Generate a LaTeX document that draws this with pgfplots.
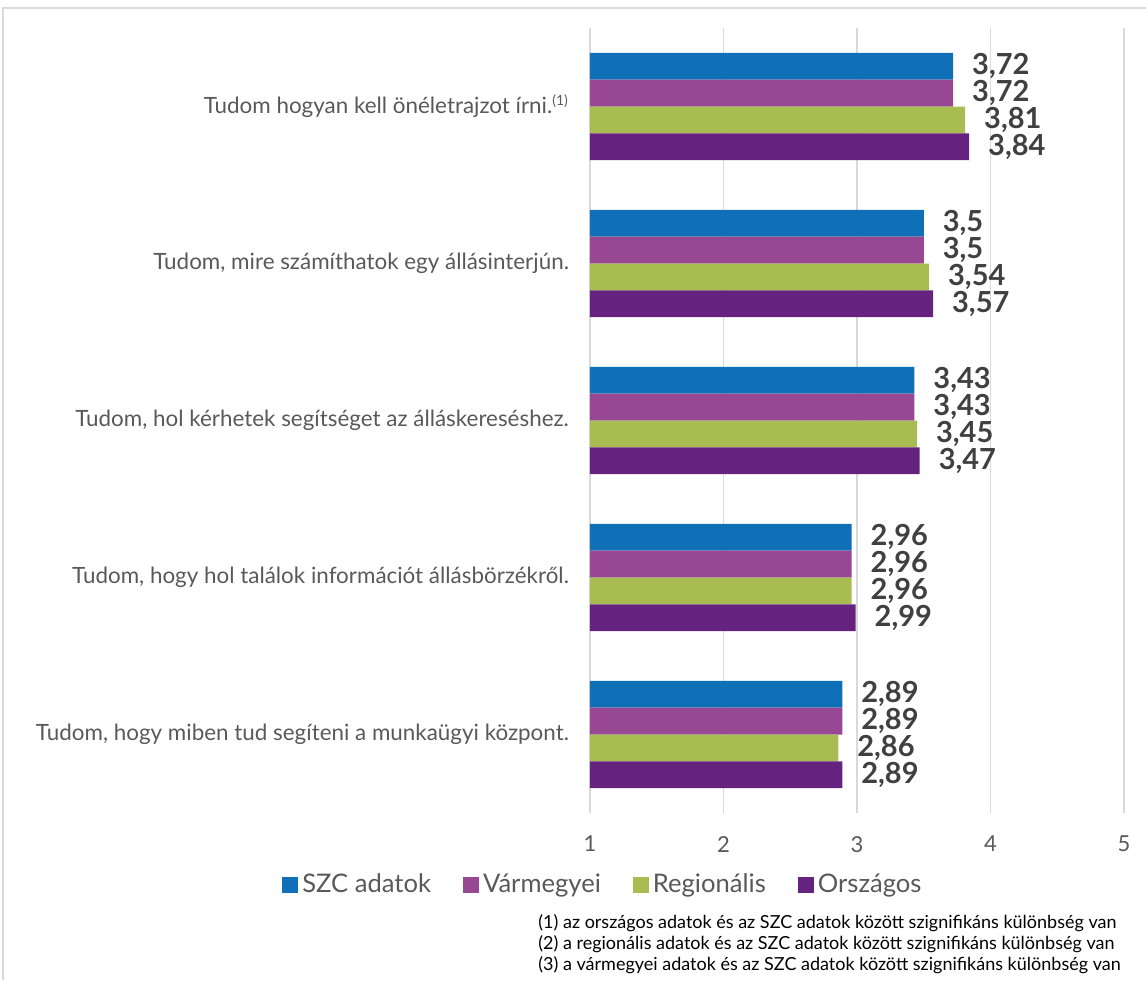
\documentclass[border=0pt]{standalone}
\usepackage{fontspec}
\setmainfont{Lato}
\usepackage{pgfplots}
\pgfplotsset{compat=1.18}
\definecolor{cSZC}{HTML}{0F6FB7}
\definecolor{cVar}{HTML}{984892}
\definecolor{cReg}{HTML}{A8BC52}
\definecolor{cOrs}{HTML}{65237F}
\definecolor{txt}{HTML}{595959}
\definecolor{lbl}{HTML}{404040}
\definecolor{gridc}{HTML}{D9D9D9}
\begin{document}
\begin{tikzpicture}[x=1pt,y=1pt]
\path[use as bounding box] (0,0) rectangle (573,490);
\draw[gridc, line width=0.8pt] (1.5,0) -- (1.5,486) -- (573,486);
\begin{axis}[
  at={(295pt,83.5pt)}, anchor=south west,
  scale only axis, width=267pt, height=392.5pt,
  xbar=0pt, bar width=13.4pt,
  xmin=1, xmax=5, xtick={1,2,3,4,5},
  ymin=-0.5, ymax=4.5, y dir=reverse,
  ytick={0,1,2,3,4},
  yticklabels={Tudom hogyan kell önéletrajzot írni.\textsuperscript{\fontsize{7}{7}\selectfont(1)},
    {Tudom, mire számíthatok egy állásinterjún.},
    {Tudom, hol kérhetek segítséget az álláskereséshez.},
    {Tudom, hogy hol találok információt állásbörzékről.},
    {Tudom, hogy miben tud segíteni a munkaügyi központ.}},
  axis line style={draw=none},
  xmajorgrids, grid style={gridc, line width=0.8pt},
  major tick length=0pt,
  x tick label style={font=\fontsize{11}{13}\selectfont, text=txt, yshift=-8pt},
  y tick label style={font=\fontsize{11.2}{13}\selectfont, text=txt, xshift=-7pt},
  /pgf/number format/assume math mode=true,
  /pgf/number format/use comma,
  nodes near coords,
  every node near coord/.append style={font=\bfseries\fontsize{14.5}{16}\selectfont, text=lbl, xshift=6pt},
  legend columns=4,
  legend style={at={(0.026,-0.0917)}, anchor=center, draw=none, fill=none,
    font=\fontsize{12.8}{14}\selectfont, text=txt,
    /tikz/every even column/.append style={column sep=14pt}},
  legend image code/.code={\fill[#1] (0pt,-4pt) rectangle (8pt,4pt);},
]
\addplot[fill=cSZC, draw=none, bar shift=20.1pt] coordinates {(3.72,0) (3.5,1) (3.43,2) (2.96,3) (2.89,4)};
\addplot[fill=cVar, draw=none, bar shift=6.7pt] coordinates {(3.72,0) (3.5,1) (3.43,2) (2.96,3) (2.89,4)};
\addplot[fill=cReg, draw=none, bar shift=-6.7pt] coordinates {(3.81,0) (3.54,1) (3.45,2) (2.96,3) (2.86,4)};
\addplot[fill=cOrs, draw=none, bar shift=-20.1pt] coordinates {(3.84,0) (3.57,1) (3.47,2) (2.99,3) (2.89,4)};
\legend{SZC adatok, Vármegyei, Regionális, Országos}
\end{axis}
\node[anchor=north west, align=left, inner sep=0pt, font=\fontsize{9}{10.5}\selectfont] at (269,33) {%
(1) az országos adatok és az SZC adatok között szignifikáns különbség van\\
(2) a regionális adatok és az SZC adatok között szignifikáns különbség van\\
(3) a vármegyei adatok és az SZC adatok között szignifikáns különbség van};
\end{tikzpicture}
\end{document}
